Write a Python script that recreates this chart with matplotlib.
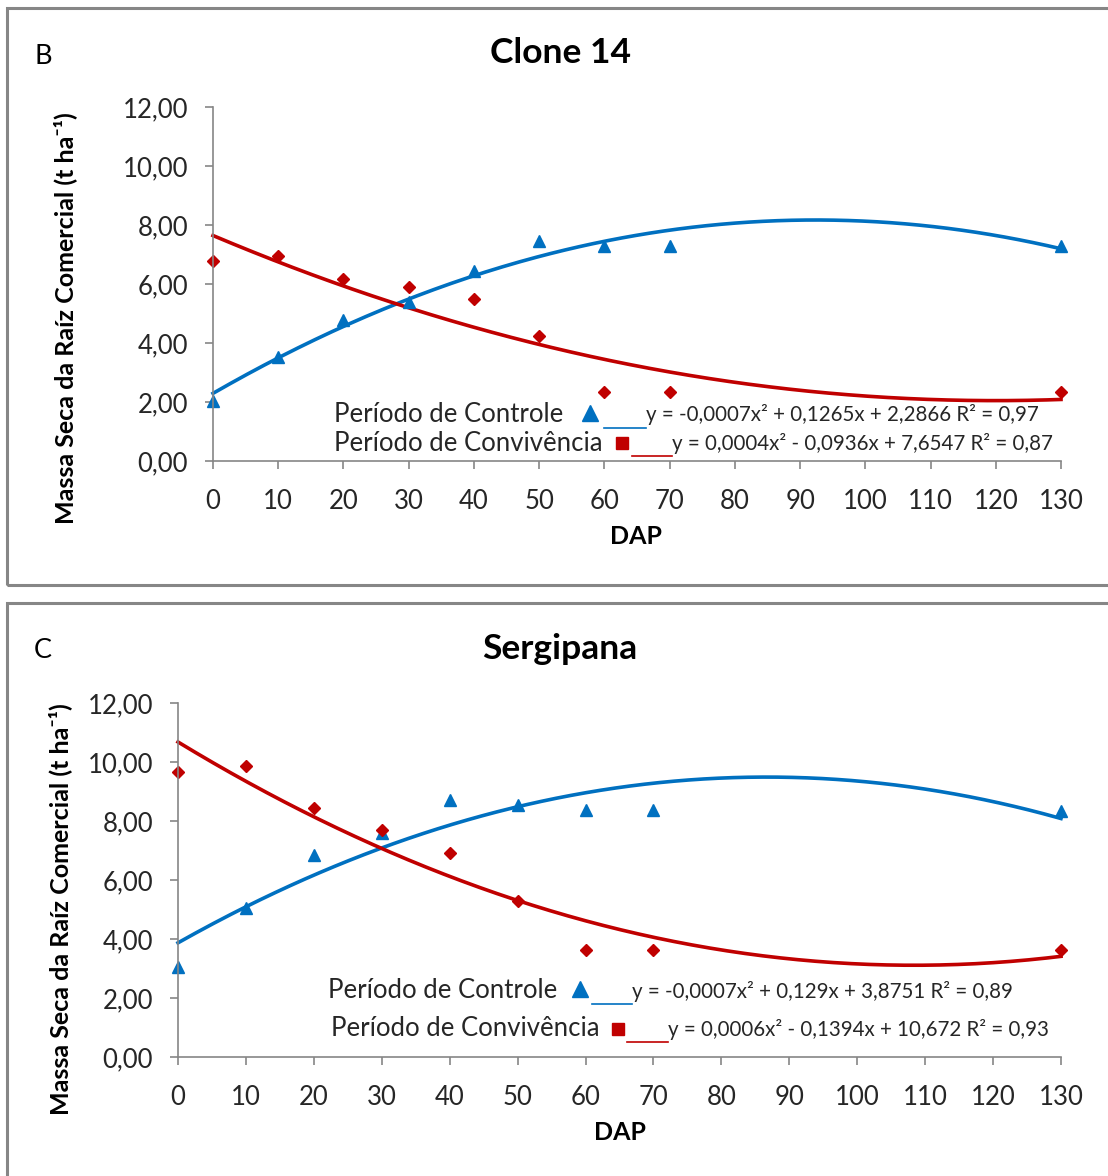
import numpy as np
import matplotlib
matplotlib.use("Agg")
import matplotlib.pyplot as plt
from matplotlib.patches import Rectangle
from matplotlib.lines import Line2D

plt.rcParams['font.family'] = ['Lato', 'DejaVu Sans']

# DAP (dias apos plantio)
dap = [0, 10, 20, 30, 40, 50, 60, 70, 130]
x_ticks = list(range(0, 131, 10))
y_ticks = [0, 2, 4, 6, 8, 10, 12]

# Clone 14
clone_controle = [2.05, 3.53, 4.78, 5.39, 6.44, 7.46, 7.29, 7.29, 7.29]
clone_convivencia = [6.78, 6.95, 6.17, 5.90, 5.49, 4.24, 2.34, 2.34, 2.34]
clone_eq_controle = 'y = -0,0007x² + 0,1265x + 2,2866 R² = 0,97'
clone_eq_conviv = 'y = 0,0004x² - 0,0936x + 7,6547 R² = 0,87'

# Sergipana
serg_controle = [3.05, 5.05, 6.85, 7.59, 8.71, 8.55, 8.37, 8.37, 8.34]
serg_convivencia = [9.66, 9.86, 8.44, 7.69, 6.92, 5.29, 3.63, 3.63, 3.63]
serg_eq_controle = 'y = -0,0007x² + 0,129x + 3,8751 R² = 0,89'
serg_eq_conviv = 'y = 0,0006x² - 0,1394x + 10,672 R² = 0,93'

BLUE = '#0070C0'
RED = '#C00000'
GREY = '#868686'
TXT = '#262626'

W, H = 1108, 1176
fig = plt.figure(figsize=(W / 100, H / 100), dpi=100)


def fx(px):
    return px / W


def fy(py):
    return 1 - py / H


def draw_panel(box, ax_box, letter, title, title_xy, ylab_xy, xlab_xy,
               controle, conviv, eq_ctrl, eq_conv, leg):
    # frame around the panel
    x0, y0, x1, y1 = box
    fig.add_artist(Rectangle((fx(x0), fy(y1)), fx(x1 - x0), (y1 - y0) / H,
                             transform=fig.transFigure, fill=False,
                             ec=GREY, lw=2.2))
    fig.text(fx(x0 + 36), fy(y0 + 48), letter, fontsize=19.5, va='center', ha='center')
    fig.text(fx(title_xy[0]), fy(title_xy[1]), title, fontsize=25.5,
             fontweight='bold', ha='center', va='center')

    l, t, r, b = ax_box
    ax = fig.add_axes([fx(l), fy(b), fx(r - l), (b - t) / H])
    ax.set_xlim(0, 130)
    ax.set_ylim(0, 12)
    ax.set_xticks(x_ticks)
    ax.set_yticks(y_ticks)
    ax.set_yticklabels([('%.2f' % v).replace('.', ',') for v in y_ticks])
    for s in ['top', 'right']:
        ax.spines[s].set_visible(False)
    for s in ['left', 'bottom']:
        ax.spines[s].set_color(GREY)
        ax.spines[s].set_linewidth(1.2)
    ax.tick_params(axis='both', colors=GREY, labelcolor=TXT,
                   labelsize=18.5, length=6, width=1.2)
    ax.tick_params(axis='x', pad=14)
    ax.tick_params(axis='y', pad=12)

    # polynomial trend lines (2nd order), as in the original spreadsheet
    xs = np.linspace(0, 130, 300)
    c1 = np.polyfit(dap, controle, 2)
    c2 = np.polyfit(dap, conviv, 2)
    ax.plot(xs, np.polyval(c1, xs), color=BLUE, lw=2.6, clip_on=False)
    ax.plot(xs, np.polyval(c2, xs), color=RED, lw=2.6, clip_on=False)
    ax.plot(dap, controle, ls='none', marker='^', ms=9, color=BLUE, clip_on=False)
    ax.plot(dap, conviv, ls='none', marker='D', ms=6, color=RED, clip_on=False)

    fig.text(fx(ylab_xy[0]), fy(ylab_xy[1]),
             'Massa Seca da Raíz Comercial (t ha⁻¹)', rotation=90,
             fontsize=18, fontweight='bold', ha='center', va='center')
    fig.text(fx(xlab_xy[0]), fy(xlab_xy[1]), 'DAP', fontsize=18,
             fontweight='bold', ha='center', va='center')

    # custom legend lines
    (tx1, ty1, mx1, ul1, ex1), (tx2, ty2, mx2, ul2, ex2) = leg
    fig.text(fx(tx1), fy(ty1), 'Período de Controle', fontsize=18.5,
             ha='left', va='center', color=TXT)
    fig.add_artist(Line2D([fx(mx1)], [fy(ty1 - 2)], marker='^', ms=11,
                          color=BLUE, transform=fig.transFigure))
    fig.add_artist(Line2D([fx(ul1[0]), fx(ul1[1])], [fy(ty1 + 13)] * 2,
                          color=BLUE, lw=1.2, transform=fig.transFigure))
    fig.text(fx(ex1), fy(ty1), eq_ctrl, fontsize=14.8, ha='left',
             va='center', color=TXT)

    fig.text(fx(tx2), fy(ty2), 'Período de Convivência', fontsize=18.5,
             ha='left', va='center', color=TXT)
    fig.add_artist(Line2D([fx(mx2)], [fy(ty2)], marker='s', ms=8,
                          color=RED, transform=fig.transFigure))
    fig.add_artist(Line2D([fx(ul2[0]), fx(ul2[1])], [fy(ty2 + 13)] * 2,
                          color=RED, lw=1.2, transform=fig.transFigure))
    fig.text(fx(ex2), fy(ty2), eq_conv, fontsize=14.8, ha='left',
             va='center', color=TXT)


draw_panel((7, 8, 1112, 585), (213, 107, 1061, 461), 'B', 'Clone 14',
           (560, 53), (65, 318), (636, 537),
           clone_controle, clone_convivencia, clone_eq_controle, clone_eq_conviv,
           [(334, 415, 590, (604, 646), 646), (334, 443, 622, (632, 672), 672)])

draw_panel((7, 603, 1112, 1182), (178, 703, 1061, 1057), 'C', 'Sergipana',
           (560, 649), (60, 909), (620, 1133),
           serg_controle, serg_convivencia, serg_eq_controle, serg_eq_conviv,
           [(328, 991, 580, (592, 632), 632), (331, 1029, 618, (627, 668), 668)])

fig.savefig('out.png', dpi=100)
